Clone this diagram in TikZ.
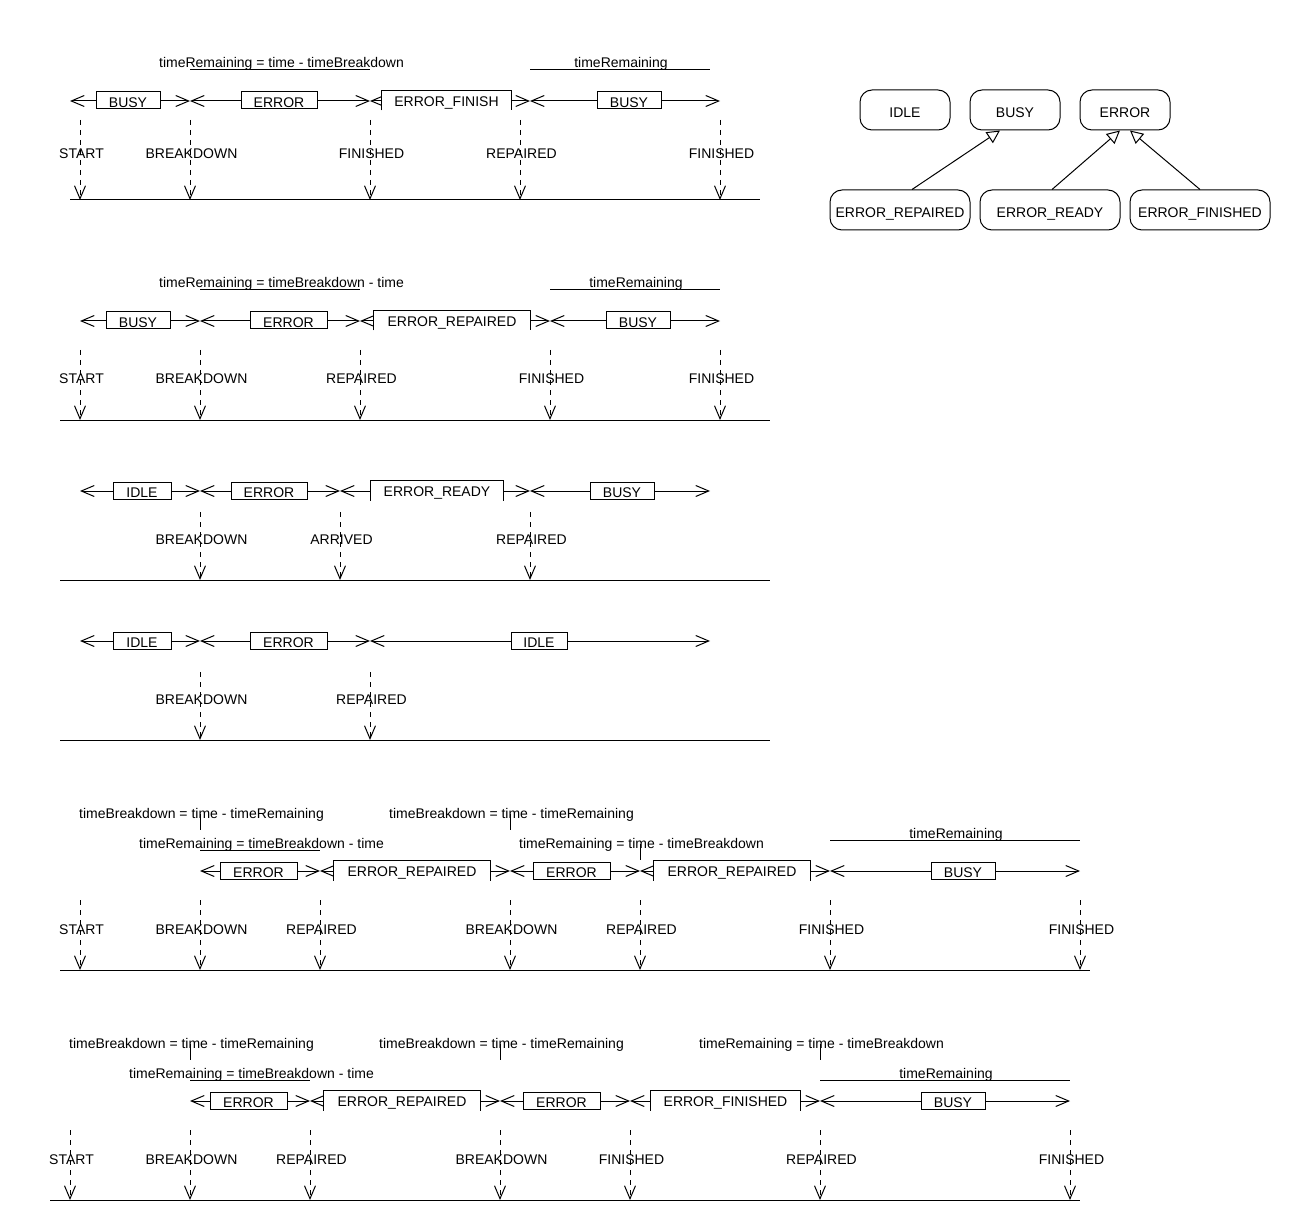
\documentclass[tikz,border=0pt]{standalone}
\usepackage{fontspec}
\setmainfont{Liberation Sans}
\usetikzlibrary{arrows.meta}
\tikzset{
  seg/.style={line width=1pt,{Straight Barb[length=13pt,width=11pt]}-{Straight Barb[length=13pt,width=11pt]}},
  evt/.style={line width=1pt,dash pattern=on 5pt off 5pt,-{Straight Barb[length=13pt,width=11pt]}},
  axisline/.style={line width=1pt},
  cbox/.style={draw,fill=white,line width=1pt,inner sep=0pt,minimum height=17pt,text height=14.5pt,text depth=0pt},
  obox/.style={fill=white,inner sep=0pt,minimum height=19pt,text height=12.5pt,text depth=0pt},
  elab/.style={anchor=base,inner sep=0pt,yshift=-1pt},
  tlab/.style={anchor=base,inner sep=0pt,yshift=-1pt},
  statebox/.style={draw,rounded corners=12pt,line width=1pt,minimum height=40pt,inner sep=0pt,text height=15pt,text depth=0pt},
  inh/.style={line width=1pt,-{Triangle[open,length=13pt,width=13pt]}}
}
% name, x1, x2, L
\newcommand\mySeg[4]{%
  \coordinate (#1l) at (#2,#4); \coordinate (#1r) at (#3,#4);
  \draw[seg] (#1l) -- (#1r);}
% name, x1, x2, L, text
\newcommand\myCbox[5]{%
  \node[cbox,minimum width={(#3-#2)*1pt}] (#1) at ({(#2+#3)/2},#4-0.5) {#5};}
\newcommand\myObox[5]{%
  \node[obox,minimum width={(#3-#2)*1pt}] (#1) at ({(#2+#3)/2},#4-0.5) {#5};
  \draw[line width=1pt] (#1.south west) |- (#1.north east) -- (#1.south east);}
% name, x, y1, y2, label baseline, text
\newcommand\myEvt[6]{%
  \coordinate (#1a) at (#2,#3); \coordinate (#1b) at (#2,#4);
  \draw[evt] (#1a) -- (#1b);
  \node[elab] (#1t) at (#2+1.5,#5) {#6};}
\begin{document}
\begin{tikzpicture}[x=1pt,y=-1pt,line width=1pt,font=\fontsize{14}{16}\selectfont]
\useasboundingbox[fill=white] (0,0) rectangle (1290,1230);

% ---------------- Section 1 ----------------
\node[tlab] (t1a) at (281.5,67) {timeRemaining = time - timeBreakdown};
\draw[axisline] (190,70) -- (370,70);
\node[tlab] (t1b) at (621,67) {timeRemaining};
\draw[axisline] (530,70) -- (710,70);
\mySeg{s1a}{70}{190}{101}
\mySeg{s1b}{190}{370}{101}
\mySeg{s1c}{370}{530}{101}
\mySeg{s1d}{530}{720}{101}
\myCbox{b1a}{96}{160}{101}{BUSY}
\myCbox{b1b}{241}{317}{101}{ERROR}
\myObox{b1c}{382}{511}{101}{ERROR\_FINISH}
\myCbox{b1d}{597}{661}{101}{BUSY}
\myEvt{e1a}{80}{120}{200}{158}{START}
\myEvt{e1b}{190}{120}{200}{158}{BREAKDOWN}
\myEvt{e1c}{370}{120}{200}{158}{FINISHED}
\myEvt{e1d}{520}{120}{200}{158}{REPAIRED}
\myEvt{e1e}{720}{120}{200}{158}{FINISHED}
\draw[axisline] (70,200) -- (760,200);

% ---------------- State hierarchy ----------------
\node[statebox,minimum width=90pt] (sIdle) at (905,110) {IDLE};
\node[statebox,minimum width=90pt] (sBusy) at (1015,110) {BUSY};
\node[statebox,minimum width=90pt] (sErr) at (1125,110) {ERROR};
\node[statebox,minimum width=140pt] (sErep) at (900,210) {ERROR\_REPAIRED};
\node[statebox,minimum width=140pt] (sEready) at (1050,210) {ERROR\_READY};
\node[statebox,minimum width=140pt] (sEfin) at (1200,210) {ERROR\_FINISHED};
\draw[inh] ([xshift=12pt]sErep.north) -- ([xshift=-15pt]sBusy.south);
\draw[inh] ([xshift=2pt]sEready.north) -- ([xshift=-5pt]sErr.south);
\draw[inh] (sEfin.north) -- ([xshift=5pt]sErr.south);

% ---------------- Section 2 ----------------
\node[tlab] (t2a) at (281.5,287) {timeRemaining = timeBreakdown - time};
\draw[axisline] (200,290) -- (360,290);
\node[tlab] (t2b) at (636,287) {timeRemaining};
\draw[axisline] (550,290) -- (720,290);
\mySeg{s2a}{80}{200}{321}
\mySeg{s2b}{200}{360}{321}
\mySeg{s2c}{360}{550}{321}
\mySeg{s2d}{550}{720}{321}
\myCbox{b2a}{106}{170}{321}{BUSY}
\myCbox{b2b}{250}{327}{321}{ERROR}
\myObox{b2c}{374}{530}{321}{ERROR\_REPAIRED}
\myCbox{b2d}{606}{670}{321}{BUSY}
\myEvt{e2a}{80}{350}{420}{383}{START}
\myEvt{e2b}{200}{350}{420}{383}{BREAKDOWN}
\myEvt{e2c}{360}{350}{420}{383}{REPAIRED}
\myEvt{e2d}{550}{350}{420}{383}{FINISHED}
\myEvt{e2e}{720}{350}{420}{383}{FINISHED}
\draw[axisline] (60,420) -- (770,420);

% ---------------- Section 3 ----------------
\mySeg{s3a}{80}{200}{491}
\mySeg{s3b}{200}{340}{491}
\mySeg{s3c}{340}{530}{491}
\mySeg{s3d}{530}{710}{491}
\myCbox{b3a}{113}{171}{491}{IDLE}
\myCbox{b3b}{231}{307}{491}{ERROR}
\myObox{b3c}{371}{503}{491}{ERROR\_READY}
\myCbox{b3d}{590}{654}{491}{BUSY}
\myEvt{e3a}{200}{512}{580}{543}{BREAKDOWN}
\myEvt{e3b}{340}{512}{580}{543}{ARRIVED}
\myEvt{e3c}{530}{512}{580}{543}{REPAIRED}
\draw[axisline] (60,580) -- (770,580);

% ---------------- Section 4 ----------------
\mySeg{s4a}{80}{200}{641}
\mySeg{s4b}{200}{370}{641}
\mySeg{s4c}{370}{710}{641}
\myCbox{b4a}{113}{171}{641}{IDLE}
\myCbox{b4b}{250}{327}{641}{ERROR}
\myCbox{b4c}{511}{567}{641}{IDLE}
\myEvt{e4a}{200}{672}{740}{703}{BREAKDOWN}
\myEvt{e4b}{370}{672}{740}{703}{REPAIRED}
\draw[axisline] (60,740) -- (770,740);

% ---------------- Section 5 ----------------
\node[tlab] (t5a) at (201.5,817) {timeBreakdown = time - timeRemaining};
\draw[axisline] (200,814) -- (200,830);
\node[tlab] (t5b) at (261.5,847) {timeRemaining = timeBreakdown - time};
\draw[axisline] (200,850) -- (320,850);
\node[tlab] (t5c) at (511.5,817) {timeBreakdown = time - timeRemaining};
\draw[axisline] (510,814) -- (510,830);
\node[tlab] (t5d) at (641.5,847) {timeRemaining = time - timeBreakdown};
\draw[axisline] (640,844) -- (640,860);
\node[tlab] (t5e) at (956,837) {timeRemaining};
\draw[axisline] (830,840) -- (1080,840);
\mySeg{s5a}{200}{320}{871}
\mySeg{s5b}{320}{510}{871}
\mySeg{s5c}{510}{640}{871}
\mySeg{s5d}{640}{830}{871}
\mySeg{s5e}{830}{1080}{871}
\myCbox{b5a}{220}{297}{871}{ERROR}
\myObox{b5b}{334}{490}{871}{ERROR\_REPAIRED}
\myCbox{b5c}{533}{610}{871}{ERROR}
\myObox{b5d}{654}{810}{871}{ERROR\_REPAIRED}
\myCbox{b5e}{931}{995}{871}{BUSY}
\myEvt{e5a}{80}{900}{970}{933}{START}
\myEvt{e5b}{200}{900}{970}{933}{BREAKDOWN}
\myEvt{e5c}{320}{900}{970}{933}{REPAIRED}
\myEvt{e5d}{510}{900}{970}{933}{BREAKDOWN}
\myEvt{e5e}{640}{900}{970}{933}{REPAIRED}
\myEvt{e5f}{830}{900}{970}{933}{FINISHED}
\myEvt{e5g}{1080}{900}{970}{933}{FINISHED}
\draw[axisline] (60,970) -- (1090,970);

% ---------------- Section 6 ----------------
\node[tlab] (t6a) at (191.5,1047) {timeBreakdown = time - timeRemaining};
\draw[axisline] (190,1044) -- (190,1060);
\node[tlab] (t6b) at (251.5,1077) {timeRemaining = timeBreakdown - time};
\draw[axisline] (190,1080) -- (310,1080);
\node[tlab] (t6c) at (501.5,1047) {timeBreakdown = time - timeRemaining};
\draw[axisline] (500,1044) -- (500,1060);
\node[tlab] (t6d) at (821.5,1047) {timeRemaining = time - timeBreakdown};
\draw[axisline] (820,1044) -- (820,1060);
\node[tlab] (t6e) at (946,1077) {timeRemaining};
\draw[axisline] (820,1080) -- (1070,1080);
\mySeg{s6a}{190}{310}{1101}
\mySeg{s6b}{310}{500}{1101}
\mySeg{s6c}{500}{630}{1101}
\mySeg{s6d}{630}{820}{1101}
\mySeg{s6e}{820}{1070}{1101}
\myCbox{b6a}{210}{287}{1101}{ERROR}
\myObox{b6b}{324}{480}{1101}{ERROR\_REPAIRED}
\myCbox{b6c}{523}{600}{1101}{ERROR}
\myObox{b6d}{651}{800}{1101}{ERROR\_FINISHED}
\myCbox{b6e}{921}{985}{1101}{BUSY}
\myEvt{e6a}{70}{1130}{1200}{1163}{START}
\myEvt{e6b}{190}{1130}{1200}{1163}{BREAKDOWN}
\myEvt{e6c}{310}{1130}{1200}{1163}{REPAIRED}
\myEvt{e6d}{500}{1130}{1200}{1163}{BREAKDOWN}
\myEvt{e6e}{630}{1130}{1200}{1163}{FINISHED}
\myEvt{e6f}{820}{1130}{1200}{1163}{REPAIRED}
\myEvt{e6g}{1070}{1130}{1200}{1163}{FINISHED}
\draw[axisline] (50,1200) -- (1080,1200);
\end{tikzpicture}
\end{document}
